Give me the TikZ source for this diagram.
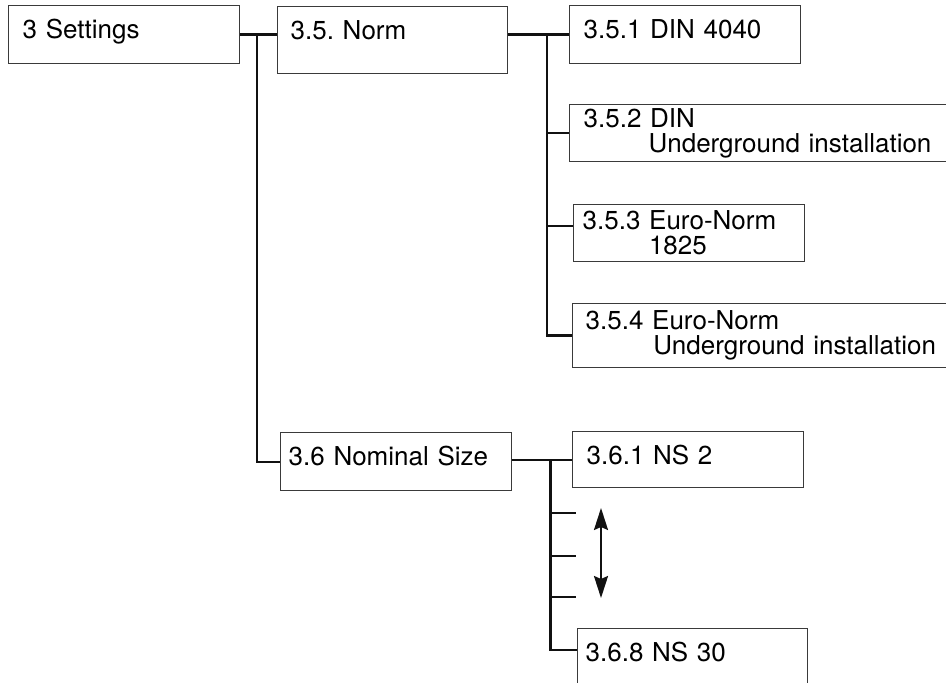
\documentclass[tikz,border=0pt]{standalone}
\usepackage{fontspec}
\setmainfont{TeX Gyre Heros}
\usepackage{tikz}
\usetikzlibrary{arrows.meta,calc}
\definecolor{frame}{HTML}{3A3A3A}
\definecolor{wire}{HTML}{111111}
\frenchspacing
\tikzset{
  font=\fontsize{13pt}{12.5pt}\selectfont,
  menu/.style     = {draw=frame, line width=0.7pt, anchor=north west, align=left,
                     inner xsep=7pt, inner ysep=0pt, minimum height=29pt, text=black},
  menuline/.style = {menu, text depth=5.7pt},
  branch/.style   = {draw=wire, line width=1.2pt},
  scroll/.style   = {{Stealth[length=11pt,width=7pt,inset=1.5pt]}-{Stealth[length=11pt,width=7pt,inset=1.5pt]},
                     draw=wire, line width=1.1pt},
}

\begin{document}
\begin{tikzpicture}[x=0.5pt, y=-0.5pt]

\useasboundingbox (0,0) rectangle (946,683);
\clip (0,0) rectangle (946,683);

% ---- first and second level -------------------------------------------
\node[menuline, text width=101.5pt] at (8,5) (set) {3 Settings};
\node[menuline, text width=102pt, inner xsep=6.5pt, minimum height=33.5pt, text depth=10pt]
  at (277,6) (norm) {3.5. Norm};
\node[menuline, text width=107.5pt, inner xsep=4pt] at (280,432) (ns) {3.6 Nominal Size};

% ---- norm entries ------------------------------------------------------
\node[menuline, text width=101.5pt] at (569,5) (din) {3.5.1 DIN 4040};
\node[menu, text width=200pt, minimum height=28.5pt] at (569,104) (dinug)
  {3.5.2 DIN\\\hspace*{2.5em}Underground installation};
\node[menu, text width=106.5pt, inner xsep=4.5pt, minimum height=28.5pt] at (573,204) (euro)
  {3.5.3 Euro-Norm\\\hspace*{2.55em}1825};
\node[menu, text width=200pt, inner xsep=6.5pt, minimum height=32pt] at (572,303) (euroug)
  {3.5.4 Euro-Norm\\\hspace*{2.6em}Underground installation};

% ---- nominal size entries ----------------------------------------------
\node[menuline, text width=101.5pt, minimum height=28pt, text depth=4.7pt] at (572,431) (nsa) {3.6.1 NS 2};
\node[menuline, text width=107pt, inner xsep=4pt] at (577,628) (nsb) {3.6.8 NS 30};

% ---- branches ----------------------------------------------------------
\draw[branch] (set.east) -- (set.east -| norm.west) coordinate[pos=0.45] (j1);
\draw[branch] (j1) |- (ns.west);

\draw[branch] (din.west -| norm.east) -- (din.west) coordinate[pos=0.64] (j2);
\draw[branch] (j2) |- (euroug.west);
\draw[branch] (j2 |- dinug.west) -- (dinug.west);
\coordinate (eurotap) at ([yshift=3.5pt]euro.west);
\draw[branch] (j2 |- eurotap) -- (eurotap);

\draw[branch] (nsa.west -| ns.east) -- (nsa.west) coordinate[pos=0.64] (j3);
\coordinate (nstap) at ([yshift=4pt]nsb.west);
\draw[branch] (j3) |- (nstap);
\foreach \y/\n in {513/a, 556/b, 597/c} {
  \coordinate (stub\n) at (576,\y);
  \draw[branch] (j3 |- stub\n) -- (stub\n);
}

% the entries in between are scrolled through
\coordinate (up) at (601,508);
\coordinate (down) at (601,598);
\draw[scroll] (up) -- (down);

\end{tikzpicture}
\end{document}
